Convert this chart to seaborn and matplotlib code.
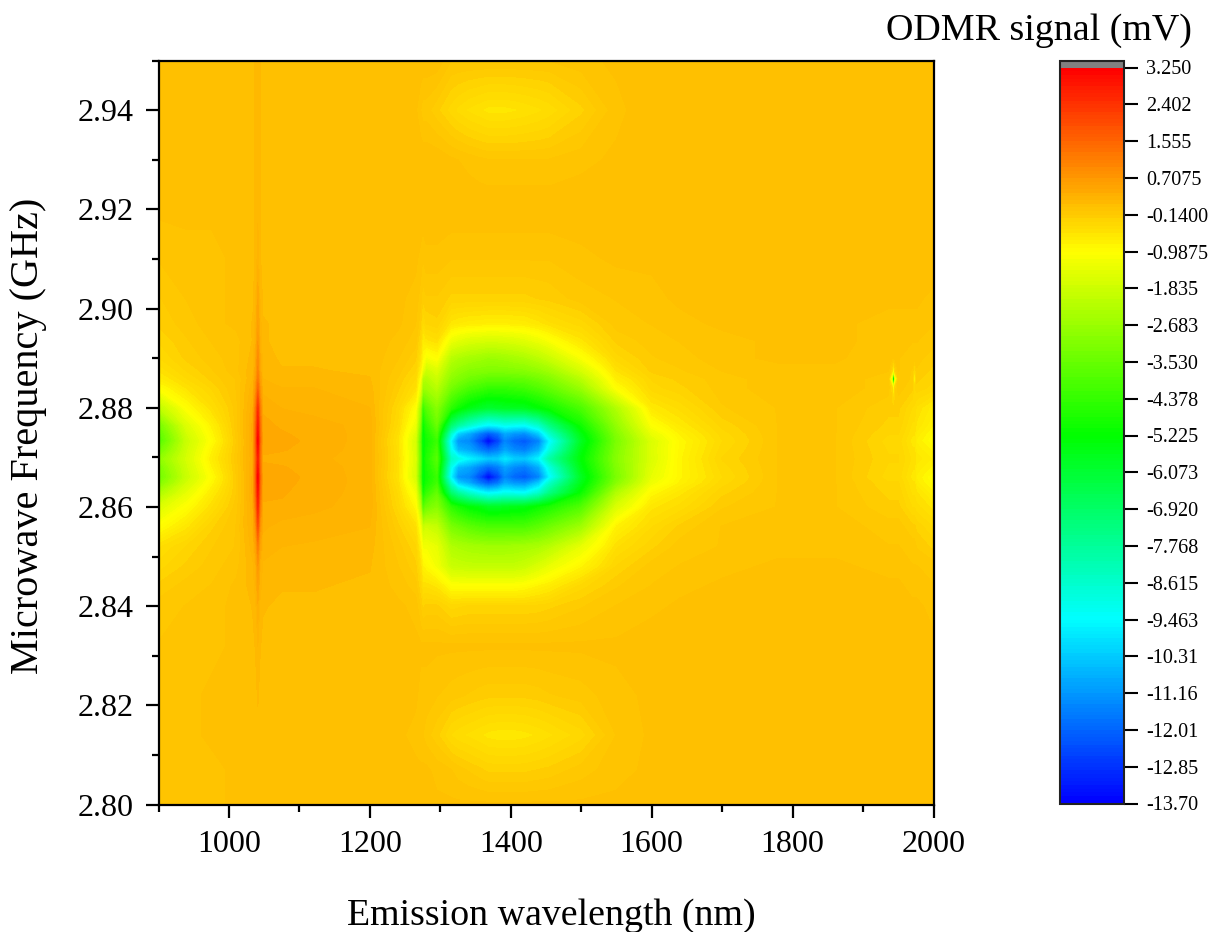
import numpy as np
import matplotlib
matplotlib.use("Agg")
import matplotlib.pyplot as plt
import seaborn as sns

# Emission wavelength samples (nm)
wavelength = [900, 940, 975, 1010, 1034, 1038, 1041, 1044, 1048, 1075, 1120, 1200, 1240,
              1265, 1272, 1275, 1280, 1295,
              1315, 1325, 1340, 1355, 1368, 1382, 1392, 1405, 1420, 1440, 1455,
              1500, 1550, 1600, 1640, 1700, 1780, 1860,
              1936, 1941, 1943, 1945, 1950, 1970, 1973, 1976, 2000]
# Microwave frequency samples (GHz)
frequency = [2.800, 2.807, 2.814, 2.822, 2.832, 2.840, 2.844, 2.848, 2.852, 2.856, 2.860,
             2.8628, 2.8648, 2.8660, 2.8680, 2.8697, 2.8715, 2.8733, 2.8748, 2.8765,
             2.880, 2.884, 2.8858, 2.8875, 2.890, 2.8935, 2.897, 2.902, 2.910, 2.920,
             2.930, 2.940, 2.950]

# ODMR signal (mV), one list per frequency
r_2800 = [.0,.0,.0,.05, .1,.1,.1,.1,.1, .1,.1,.1,.05, .05,.05,.05,.05,.05, .05,.05,.05,.05,.05,.05,.05,.05,.05,.05,.05, .05,.05,.05,.05,.05,.05,.05, .05,.05,.05,.05,.05, .05,.05,.05,.05]
r_2807 = [.0,.0,.0,.05, .1,.1,.1,.1,.1, .1,.1,.1,.05, .05,.05,.05,.05,.0, -.05,-.1,-.15,-.2,-.25,-.25,-.25,-.25,-.25,-.22,-.2, -.1,.0,.05,.05,.05,.05,.05, .05,.05,.05,.05,.05, .05,.05,.05,.05]
r_2814 = [.0,.0,.05,.05, .1,.1,.1,.1,.1, .1,.1,.1,.05, .0,-.05,-.05,-.1,-.2, -.4,-.45,-.5,-.55,-.6,-.62,-.62,-.62,-.6,-.55,-.5, -.35,-.05,.05,.05,.05,.05,.05, .05,.05,.05,.05,.05, .05,.05,.05,.05]
r_2822 = [.0,.0,.05,.05, .1,.1,.12,.1,.1, .1,.1,.1,.05, .05,.0,.0,.0,-.05, -.1,-.12,-.15,-.18,-.2,-.2,-.2,-.2,-.2,-.18,-.15, -.1,.0,.05,.1,.1,.1,.1, .1,.1,.1,.1,.1, .05,.05,.05,.05]
r_2832 = [-.05,.0,.0,.05, .1,.12,.2,.12,.1, .1,.1,.1,.05, .05,.05,.05,.05,.05, .05,.05,.05,.05,.05,.05,.05,.05,.05,.05,.05, .05,.05,.1,.1,.1,.1,.1, .1,.1,.1,.1,.1, .05,.05,.05,.05]
r_2840 = [-.1,-.05,.0,.05, .12,.18,.35,.18,.12, .1,.1,.1,.05, .0,-.15,-.25,-.2,-.2, -.35,-.33,-.3,-.3,-.3,-.3,-.3,-.3,-.3,-.28,-.25, -.15,-.05,.0,.05,.05,.1,.1, .05,.05,.05,.05,.05, .05,.05,.05,.0]
r_2844 = [-.2,-.1,-.05,.05, .15,.25,.5,.25,.15, .12,.12,.1,.0, -.1,-.3,-.5,-.5,-.6, -1.0,-1.0,-1.0,-1.0,-1.0,-1.0,-1.0,-1.0,-.95,-.8,-.7, -.35,-.15,-.05,.0,.05,.1,.05, .05,.05,.05,.05,.05, .0,.0,.0,-.05]
r_2848 = [-.35,-.2,-.1,.0, .18,.3,.7,.3,.18, .15,.15,.12,-.05, -.2,-.5,-.8,-.9,-1.2, -1.9,-1.95,-2.0,-2.0,-2.0,-2.0,-2.0,-2.0,-1.9,-1.6,-1.35, -.85,-.3,-.1,-.05,.0,.05,.05, .0,.0,.0,.0,.0, -.05,-.05,-.05,-.1]
r_2852 = [-.5,-.3,-.15,-.05, .25,.5,1.1,.5,.25, .2,.18,.15,-.1, -.3,-.8,-1.2,-1.2,-1.4, -2.3,-2.4,-2.5,-2.55,-2.6,-2.6,-2.6,-2.55,-2.5,-2.4,-2.2, -1.4,-.5,-.25,-.1,-.05,.0,.0, -.05,-.05,-.05,-.05,-.05, -.1,-.1,-.15,-.25]
r_2856 = [-1.0,-.6,-.25,-.05, .3,.8,1.9,.8,.3, .25,.25,.2,-.2, -.5,-1.2,-2.0,-1.8,-2.0, -3.2,-3.4,-3.7,-3.9,-4.0,-4.0,-4.0,-4.0,-4.0,-3.7,-3.4, -2.6,-.8,-.4,-.2,-.05,.0,.0, -.1,-.1,-.1,-.1,-.1, -.2,-.2,-.25,-.4]
r_2860 = [-1.6,-1.0,-.5,-.1, .35,1.2,2.6,1.2,.35, .35,.3,.25,-.35, -.9,-2.2,-4.0,-3.4,-3.0, -4.5,-4.9,-5.3,-5.5,-5.8,-5.8,-5.7,-5.6,-5.5,-5.1,-4.8, -3.9,-1.6,-.6,-.45,-.15,-.05,-.05, -.2,-.2,-.2,-.2,-.2, -.4,-.4,-.45,-.6]
r_2863 = [-2.4,-1.4,-.7,-.15, .4,1.45,2.9,1.45,.4, .38,.32,.25,-.42, -1.2,-3.0,-5.1,-4.4,-3.6, -7.0,-7.8,-8.6,-9.2,-9.6,-9.4,-9.2,-9.3,-9.4,-8.6,-7.4, -5.1,-2.3,-.9,-.6,-.25,-.05,-.05, -.25,-.25,-.25,-.25,-.25, -.5,-.5,-.55,-.8]
r_2865 = [-3.1,-1.75,-.9,-.15, .4,1.55,3.1,1.55,.4, .4,.33,.25,-.5, -1.5,-3.6,-5.5,-4.9,-4.2, -8.6,-10.2,-10.8,-11.6,-12.2,-11.7,-10.9,-11.2,-11.3,-10.3,-8.6, -5.6,-3.0,-1.25,-.8,-.35,-.05,-.05, -.3,-.3,-.3,-.3,-.3, -.55,-.55,-.7,-.95]
r_2866 = [-3.4,-1.9,-1.0,-.15, .4,1.6,3.2,1.6,.4, .42,.33,.25,-.55, -1.7,-3.8,-5.6,-5.0,-4.3, -9.6,-11.2,-11.4,-12.4,-13.7,-12.6,-11.5,-12.0,-12.2,-11.5,-9.6, -5.8,-3.2,-1.4,-.85,-.4,-.05,-.05, -.35,-.35,-.35,-.35,-.35, -.6,-.6,-.75,-1.0]
r_2868 = [-3.2,-1.8,-.85,-.12, .38,1.5,2.9,1.5,.38, .38,.32,.25,-.52, -1.65,-3.7,-5.5,-4.9,-4.05, -9.2,-10.6,-10.9,-11.5,-12.0,-11.6,-11.0,-11.4,-11.6,-10.8,-9.0, -5.5,-3.1,-1.5,-.85,-.35,-.05,-.05, -.32,-.32,-.32,-.32,-.32, -.55,-.55,-.68,-.85]
r_2870 = [-2.9,-1.7,-.75,-.1, .36,1.4,2.7,1.4,.36, .32,.3,.25,-.5, -1.6,-3.6,-5.5,-4.8,-3.8, -8.5,-9.0,-9.6,-10.0,-10.4,-10.3,-9.8,-10.3,-10.4,-9.6,-8.0, -5.3,-3.0,-1.6,-.85,-.3,-.05,-.05, -.3,-.3,-.3,-.3,-.3, -.5,-.5,-.6,-.75]
r_2872 = [-3.4,-1.8,-.85,-.12, .38,1.5,2.95,1.5,.38, .38,.32,.25,-.52, -1.65,-3.7,-5.5,-4.9,-4.05, -9.2,-10.6,-10.9,-11.5,-12.0,-11.6,-11.0,-11.4,-11.6,-10.8,-9.0, -5.5,-3.1,-1.55,-.88,-.35,-.05,-.05, -.32,-.32,-.32,-.32,-.32, -.55,-.55,-.68,-.85]
r_2873 = [-3.9,-1.9,-1.0,-.15, .4,1.6,3.2,1.6,.4, .42,.33,.25,-.55, -1.7,-3.8,-5.6,-5.0,-4.3, -9.6,-11.2,-11.4,-12.4,-13.7,-12.6,-11.5,-12.0,-12.2,-11.5,-9.6, -5.8,-3.2,-1.6,-.9,-.4,-.05,-.05, -.35,-.35,-.35,-.35,-.35, -.6,-.6,-.75,-1.0]
r_2875 = [-3.7,-1.75,-.9,-.12, .4,1.55,3.0,1.55,.4, .38,.33,.25,-.5, -1.55,-3.55,-5.5,-4.85,-3.95, -8.6,-10.2,-10.8,-11.6,-12.2,-11.7,-10.9,-11.2,-11.3,-10.3,-8.6, -5.5,-3.05,-1.35,-.8,-.35,-.05,-.05, -.3,-.3,-.3,-.3,-.3, -.55,-.55,-.68,-.92]
r_2877 = [-3.3,-1.55,-.8,-.1, .4,1.45,2.8,1.45,.4, .35,.32,.25,-.42, -1.3,-3.2,-5.3,-4.6,-3.5, -7.0,-7.8,-8.6,-9.2,-9.6,-9.4,-9.2,-9.3,-9.4,-8.6,-7.4, -5.0,-2.8,-1.05,-.65,-.28,-.05,-.05, -.25,-.25,-.25,-.25,-.25, -.5,-.5,-.58,-.82]
r_2880 = [-2.1,-1.0,-.5,-.1, .35,1.2,2.4,1.2,.35, .28,.25,.2,-.35, -1.0,-2.6,-4.5,-3.8,-3.0, -4.5,-5.0,-5.5,-5.8,-6.0,-5.9,-5.8,-5.75,-5.7,-5.3,-5.0, -4.0,-2.3,-.65,-.45,-.15,-.05,-.05, -.2,-.2,-.2,-.2,-.2, -.4,-.4,-.5,-.7]
r_2884 = [-1.0,-.55,-.3,-.05, .25,.75,1.5,.75,.25, .2,.2,.15,-.2, -.5,-1.4,-2.6,-2.6,-2.2, -3.3,-3.6,-4.0,-4.2,-4.4,-4.4,-4.4,-4.3,-4.2,-3.9,-3.6, -2.7,-1.0,-.35,-.25,-.1,.0,.0, -.1,-.3,-1.4,-.3,-.1, -.2,-.35,-.25,-.35]
r_2886 = [-.7,-.4,-.2,-.05, .2,.6,1.2,.6,.2, .15,.15,.12,-.15, -.4,-1.1,-2.2,-2.3,-1.9, -2.9,-3.1,-3.4,-3.55,-3.7,-3.7,-3.7,-3.65,-3.6,-3.35,-3.1, -2.2,-.75,-.3,-.2,-.1,.0,.0, -.1,-1.8,-9.5,-1.8,-.1, -.15,-1.1,-.2,-.3]
r_2888 = [-.55,-.3,-.15,.0, .18,.45,1.0,.45,.18, .12,.12,.1,-.1, -.3,-.8,-1.3,-1.9,-1.6, -2.6,-2.8,-3.0,-3.05,-3.1,-3.1,-3.1,-3.05,-3.0,-2.8,-2.6, -1.7,-.55,-.2,-.15,-.05,.0,.0, -.05,-.3,-1.4,-.3,-.05, -.15,-.4,-.15,-.25]
r_2890 = [-.4,-.2,-.1,.0, .15,.4,.9,.4,.15, .1,.1,.1,-.05, -.2,-.55,-.9,-1.2,-1.0, -2.2,-2.35,-2.5,-2.6,-2.7,-2.65,-2.6,-2.5,-2.4,-2.15,-1.9, -1.1,-.35,-.15,-.1,.0,.05,.05, -.05,-.05,-.05,-.05,-.05, -.1,-.1,-.1,-.2]
r_2894 = [-.3,-.15,-.05,.0, .12,.3,.7,.3,.12, .1,.1,.1,.0, -.1,-.35,-.7,-.6,-.5, -1.3,-1.45,-1.6,-1.65,-1.7,-1.68,-1.65,-1.6,-1.5,-1.3,-1.1, -.6,-.2,-.1,-.05,.0,.05,.05, .0,.0,.0,.0,.0, -.05,-.05,-.05,-.1]
r_2897 = [-.2,-.1,.0,.05, .12,.25,.55,.25,.12, .1,.1,.1,.05, -.05,-.2,-.45,-.3,-.25, -.6,-.65,-.7,-.72,-.75,-.75,-.75,-.72,-.7,-.6,-.5, -.35,-.1,-.05,.0,.05,.05,.05, .0,.0,.0,.0,.0, .0,.0,.0,-.05]
r_2902 = [-.15,-.05,.0,.05, .1,.2,.45,.2,.1, .1,.1,.1,.05, .0,-.1,-.2,-.15,-.15, -.25,-.25,-.25,-.25,-.25,-.25,-.25,-.25,-.25,-.22,-.2, -.1,-.05,.0,.05,.05,.05,.05, .05,.05,.05,.05,.05, .05,.05,.05,.0]
r_2910 = [-.05,.0,.0,.05, .1,.12,.25,.12,.1, .1,.1,.1,.05, .05,.0,-.05,.0,.0, -.05,-.05,-.05,-.05,-.05,-.05,-.05,-.05,-.05,-.05,-.05, .0,.05,.05,.05,.05,.1,.1, .1,.1,.1,.1,.1, .1,.1,.1,.1]
r_2920 = [.05,.05,.05,.1, .1,.12,.18,.12,.1, .1,.1,.1,.1, .1,.1,.1,.1,.1, .1,.1,.1,.1,.1,.1,.1,.1,.1,.1,.1, .1,.1,.1,.1,.1,.1,.1, .1,.1,.1,.1,.1, .1,.1,.1,.1]
r_2930 = [.05,.05,.05,.1, .1,.12,.18,.12,.1, .1,.1,.1,.1, .1,.1,.1,.1,.1, .05,.03,.0,-.03,-.05,-.05,-.05,-.05,-.05,-.05,-.05, .0,.05,.1,.1,.1,.1,.1, .1,.1,.1,.1,.1, .1,.1,.1,.1]
r_2940 = [.05,.05,.05,.1, .1,.12,.18,.12,.1, .1,.1,.1,.1, .05,-.05,-.1,-.1,-.2, -.35,-.42,-.5,-.55,-.6,-.6,-.6,-.58,-.55,-.5,-.45, -.25,.0,.1,.1,.1,.1,.1, .1,.1,.1,.1,.1, .1,.1,.1,.1]
r_2950 = [.05,.05,.05,.1, .1,.12,.18,.12,.1, .1,.1,.1,.1, .1,.1,.1,.1,.1, -.05,-.05,-.05,-.05,-.05,-.05,-.05,-.05,-.05,-.05,-.05, .0,.05,.1,.1,.1,.1,.1, .1,.1,.1,.1,.1, .1,.1,.1,.1]

signal_rows = [r_2800, r_2807, r_2814, r_2822, r_2832, r_2840, r_2844, r_2848, r_2852, r_2856, r_2860,
               r_2863, r_2865, r_2866, r_2868, r_2870, r_2872, r_2873, r_2875, r_2877,
               r_2880, r_2884, r_2886, r_2888, r_2890, r_2894, r_2897, r_2902, r_2910, r_2920,
               r_2930, r_2940, r_2950]

cbar_tick_labels = ["3.250", "2.402", "1.555", "0.7075", "-0.1400", "-0.9875", "-1.835",
                    "-2.683", "-3.530", "-4.378", "-5.225", "-6.073", "-6.920", "-7.768",
                    "-8.615", "-9.463", "-10.31", "-11.16", "-12.01", "-12.85", "-13.70"]

sns.set_theme(style="ticks")
plt.rcParams["font.family"] = ["Liberation Serif", "DejaVu Serif"]

W, H = 1225, 932
fig = plt.figure(figsize=(W / 100, H / 100), dpi=100)

def box(x0, y0, x1, y1):
    return [x0 / W, 1 - y1 / H, (x1 - x0) / W, (y1 - y0) / H]

ax = fig.add_axes(box(158.5, 60.5, 933.5, 804.5))

cmap = sns.blend_palette(["#0000ff", "#00ffff", "#00ff00", "#ffff00", "#ff0000"], n_colors=256, as_cmap=True)
cmap.set_over("#808080")
levels = np.linspace(-13.7, 3.25, 201)
Z = np.array(signal_rows)
cf = ax.contourf(wavelength, frequency, Z, levels=levels, cmap=cmap, extend="max")

ax.set_xlim(900, 2000)
ax.set_ylim(2.80, 2.95)
ax.set_xticks(np.arange(1000, 2001, 200))
ax.set_xticks(np.arange(900, 2001, 200), minor=True)
ax.set_yticks(np.arange(2.80, 2.941, 0.02))
ax.set_yticklabels([f"{v:.2f}" for v in np.arange(2.80, 2.941, 0.02)])
ax.set_yticks(np.arange(2.81, 2.951, 0.02), minor=True)
ax.tick_params(which="major", length=9.5, width=1.6, labelsize=23, color="black", labelcolor="black", pad=8.5)
ax.tick_params(which="minor", length=5, width=1.6, color="black")
sns.despine(ax=ax, top=False, right=False)
for s in ax.spines.values():
    s.set_linewidth(1.6)
    s.set_color("black")
ax.set_xlabel("")
ax.set_ylabel("")
fig.text(551 / W, 1 - 916 / H, "Emission wavelength (nm)", fontsize=27.3, ha="center", va="center", color="black")
fig.text(29 / W, 1 - 436 / H, "Microwave Frequency (GHz)", fontsize=29, ha="center", va="center", rotation=90, color="black")
fig.text(1039 / W, 1 - 31 / H, "ODMR signal (mV)", fontsize=27.4, ha="center", va="center", color="black")

cax = fig.add_axes(box(1059.5, 60.5, 1123.5, 803.5))
cb = fig.colorbar(cf, cax=cax, extend="max", extendrect=True, extendfrac=7 / 736, drawedges=False)
cb.set_ticks([float(t) for t in cbar_tick_labels])
cb.set_ticklabels(cbar_tick_labels)
cb.ax.tick_params(which="major", length=10, width=1.5, labelsize=14.5, color="black", labelcolor="black", pad=6.5)
cb.ax.minorticks_off()
cb.outline.set_linewidth(1.5)
cb.outline.set_edgecolor("#222222")

fig.savefig("out.png", dpi=100, facecolor="white")
